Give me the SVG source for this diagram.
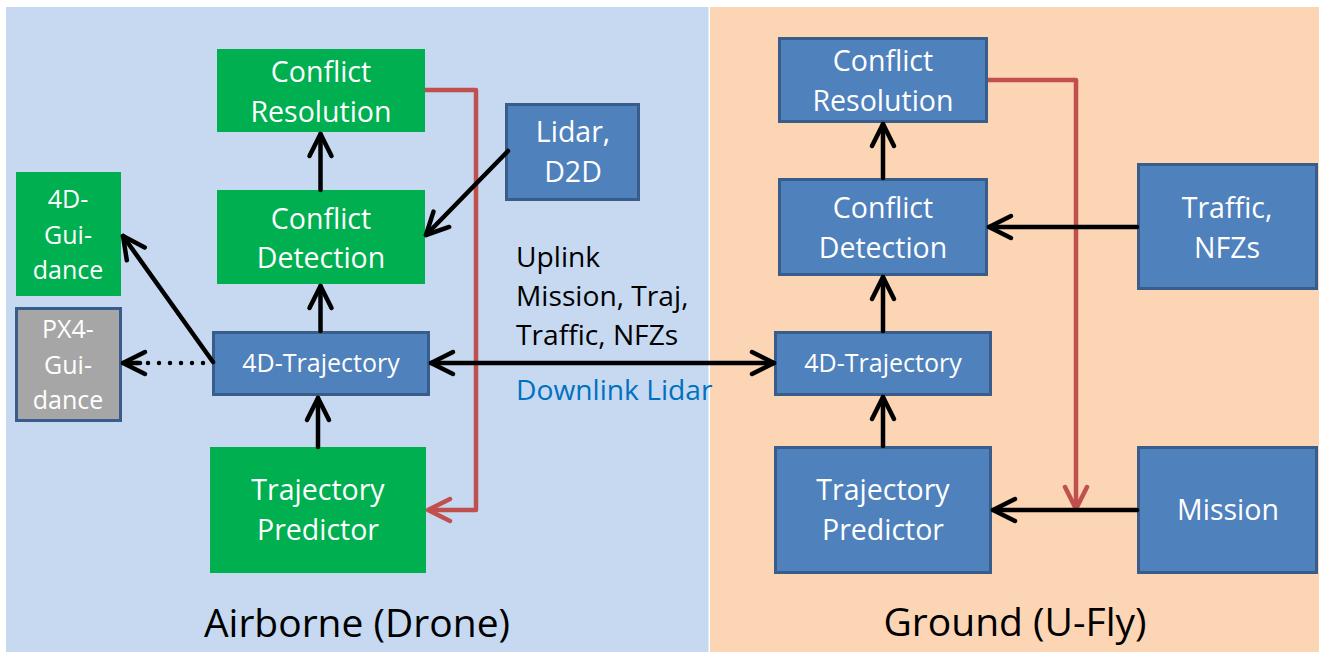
<svg xmlns="http://www.w3.org/2000/svg" width="1319" height="652" viewBox="0 0 1319 652">
  <style>
    text { font-family: "Open Sans", "Noto Sans", "Liberation Sans", sans-serif; }
    .lbl { fill: #ffffff; text-anchor: middle; font-size: 28.5px; }
    .sm { font-size: 25px; }
    .blue { fill: #4F81BD; stroke: #385D8A; stroke-width: 3; }
    .green { fill: #00B050; }
    .gray { fill: #A6A6A6; stroke: #385D8A; stroke-width: 3; }
    .link { fill: none; stroke: #000000; stroke-width: 4.5; stroke-linecap: round; }
    .red { fill: none; stroke: #C0504D; stroke-width: 4.5; stroke-linejoin: round; }
    .dots { fill: none; stroke: #000000; stroke-width: 4.5; stroke-linecap: round; stroke-dasharray: 0 11; }
    .title { fill: #000000; font-size: 39px; text-anchor: middle; }
    .note { font-size: 28.2px; }
  </style>
  <defs>
    <marker id="ah" viewBox="0 0 30 30" refX="26" refY="15" markerWidth="30" markerHeight="30" markerUnits="userSpaceOnUse" orient="auto-start-reverse" overflow="visible">
      <path d="M4,4 L26,15 L4,26" fill="none" stroke="#000000" stroke-width="4.5" stroke-linecap="round" stroke-linejoin="round"/>
    </marker>
    <marker id="ahr" viewBox="0 0 30 30" refX="26" refY="15" markerWidth="30" markerHeight="30" markerUnits="userSpaceOnUse" orient="auto" overflow="visible">
      <path d="M4,4 L26,15 L4,26" fill="none" stroke="#C0504D" stroke-width="4.5" stroke-linecap="round" stroke-linejoin="round"/>
    </marker>
  </defs>

  <!-- panels -->
  <rect x="0" y="0" width="1319" height="652" fill="#ffffff"/>
  <rect id="airborne-panel" x="6" y="7" width="702.5" height="645" fill="#C6D9F1"/>
  <rect id="ground-panel" x="710" y="7" width="609" height="645" fill="#FCD5B5"/>
  <text class="title" x="357" y="637">Airborne (Drone)</text>
  <text class="title" x="1015" y="636">Ground (U-Fly)</text>

  <!-- airborne nodes -->
  <g id="air-conflict-resolution">
    <rect class="green" x="217" y="49" width="208" height="83"/>
    <text class="lbl" x="321" y="82">Conflict</text>
    <text class="lbl" x="321" y="122">Resolution</text>
  </g>
  <g id="air-conflict-detection">
    <rect class="green" x="217" y="190" width="208" height="94"/>
    <text class="lbl" x="321" y="229">Conflict</text>
    <text class="lbl" x="321" y="268">Detection</text>
  </g>
  <g id="lidar-d2d">
    <rect class="blue" x="506.5" y="104.5" width="132" height="95"/>
    <text class="lbl" x="573" y="142">Lidar,</text>
    <text class="lbl" x="573" y="182">D2D</text>
  </g>
  <g id="guidance-4d">
    <rect class="green" x="16" y="172" width="105" height="124"/>
    <text class="lbl sm" x="68" y="208">4D-</text>
    <text class="lbl sm" x="68" y="244">Gui-</text>
    <text class="lbl sm" x="68" y="279">dance</text>
  </g>
  <g id="guidance-px4">
    <rect class="gray" x="16.5" y="308.5" width="104" height="112"/>
    <text class="lbl sm" x="68" y="338" fill="#F2F2F2">PX4-</text>
    <text class="lbl sm" x="68" y="374" fill="#F2F2F2">Gui-</text>
    <text class="lbl sm" x="68" y="409" fill="#F2F2F2">dance</text>
  </g>
  <g id="air-trajectory-4d">
    <rect class="blue" x="213.5" y="332.5" width="215" height="62"/>
    <text class="lbl sm" x="321" y="372">4D-Trajectory</text>
  </g>
  <g id="air-trajectory-predictor">
    <rect class="green" x="210" y="447" width="216" height="126"/>
    <text class="lbl" x="318" y="500">Trajectory</text>
    <text class="lbl" x="318" y="540">Predictor</text>
  </g>

  <!-- ground nodes -->
  <g id="gnd-conflict-resolution">
    <rect class="blue" x="779.5" y="38.5" width="207" height="83"/>
    <text class="lbl" x="883" y="71">Conflict</text>
    <text class="lbl" x="883" y="111">Resolution</text>
  </g>
  <g id="gnd-conflict-detection">
    <rect class="blue" x="779.5" y="179.5" width="207" height="95"/>
    <text class="lbl" x="883" y="218">Conflict</text>
    <text class="lbl" x="883" y="258">Detection</text>
  </g>
  <g id="traffic-nfzs">
    <rect class="blue" x="1138.5" y="164.5" width="178" height="124"/>
    <text class="lbl" x="1227" y="218">Traffic,</text>
    <text class="lbl" x="1227" y="258">NFZs</text>
  </g>
  <g id="gnd-trajectory-4d">
    <rect class="blue" x="775.5" y="332.5" width="215" height="62"/>
    <text class="lbl sm" x="883" y="372">4D-Trajectory</text>
  </g>
  <g id="gnd-trajectory-predictor">
    <rect class="blue" x="775.5" y="447.5" width="215" height="125"/>
    <text class="lbl" x="883" y="500">Trajectory</text>
    <text class="lbl" x="883" y="540">Predictor</text>
  </g>
  <g id="mission">
    <rect class="blue" x="1138.5" y="447.5" width="178" height="125"/>
    <text class="lbl" x="1228" y="520">Mission</text>
  </g>

  <!-- link labels -->
  <g id="link-labels">
    <text class="note" x="516" y="267" fill="#000000">Uplink</text>
    <text class="note" x="516" y="306" fill="#000000">Mission, Traj,</text>
    <text class="note" x="516" y="345" fill="#000000">Traffic, NFZs</text>
    <text class="note" x="516" y="400" fill="#0070C0">Downlink Lidar</text>
  </g>

  <!-- connectors -->
  <g id="connectors">
    <!-- resolution feedback into the predictors -->
    <path class="red" d="M425,90 H476 V510 H428" marker-end="url(#ahr)"/>
    <path class="red" d="M988,80 H1076 V509" marker-end="url(#ahr)"/>

    <!-- airborne chain -->
    <path class="link" d="M320.5,190 V134" marker-end="url(#ah)"/>
    <path class="link" d="M320.5,331 V286" marker-end="url(#ah)"/>
    <path class="link" d="M318,447 V398" marker-end="url(#ah)"/>
    <path class="link" d="M508,151 L426,235" marker-end="url(#ah)"/>
    <path class="link" d="M213,362 L123,236" marker-end="url(#ah)"/>
    <path class="dots" d="M203,363 H123"/>
    <path class="link" d="M140,363 H123" stroke="none" marker-end="url(#ah)"/>

    <!-- uplink / downlink -->
    <path class="link" d="M431,363 H774" marker-start="url(#ah)" marker-end="url(#ah)"/>

    <!-- ground chain -->
    <path class="link" d="M883,178 V124" marker-end="url(#ah)"/>
    <path class="link" d="M883,331 V277" marker-end="url(#ah)"/>
    <path class="link" d="M883,446 V397" marker-end="url(#ah)"/>
    <path class="link" d="M1137,227 H989" marker-end="url(#ah)"/>
    <path class="link" d="M1137,510 H993" marker-end="url(#ah)"/>
  </g>
</svg>
